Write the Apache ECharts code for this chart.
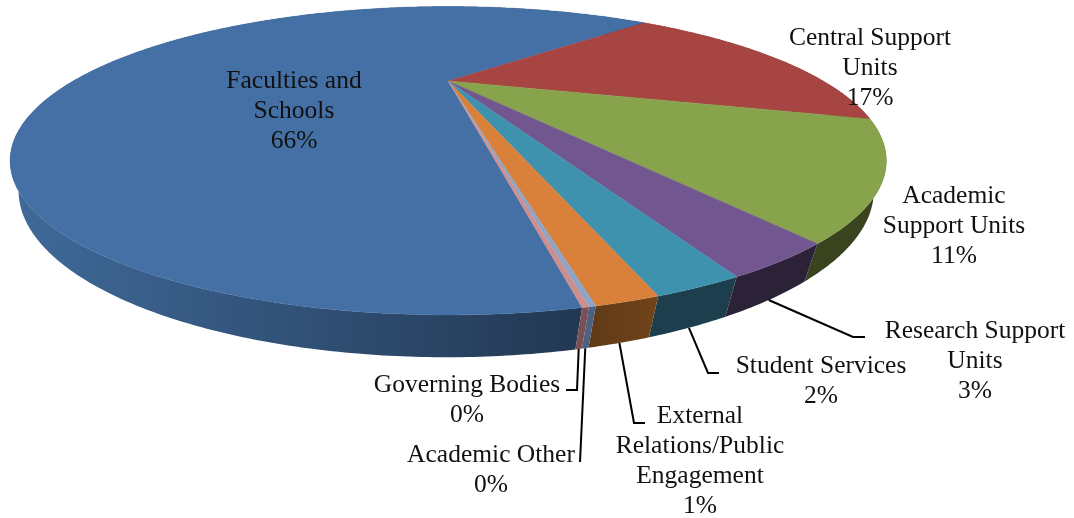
<!DOCTYPE html>
<html lang="en">
<head>
    <meta charset="UTF-8">
    <title>Pie chart</title>
    <script src="https://cdn.jsdelivr.net/npm/echarts@6/dist/echarts.min.js"></script>
    <style>
        html, body { margin: 0; padding: 0; background: #fff; }
    </style>
</head>
<body>
    <div id="pieChart" style="width: 1074px; height: 518px;"></div>
    <script>
        // data
        var categories = [
            'Faculties and\nSchools',
            'Central Support\nUnits',
            'Academic\nSupport Units',
            'Research Support\nUnits',
            'Student Services',
            'External\nRelations/Public\nEngagement',
            'Academic Other',
            'Governing Bodies'
        ];
        var shares = [65.5, 17.0, 10.85, 2.9, 2.1, 1.45, 0.15, 0.15];
        var shareLabels = ['66%', '17%', '11%', '3%', '2%', '1%', '0%', '0%'];

        // styles
        var topColors = ['#4570a5', '#a64542', '#87a34c', '#725690', '#3f92ad', '#d9803a', '#8ea5cb', '#cc8f8d'];
        var wallLeft = ['#406a9a', '#5e2725', '#39431d', '#2c2238', '#1d3f4d', '#6f4219', '#4d6180', '#7a5054'];
        var wallRight = ['#213650', '#5e2725', '#39431d', '#2c2238', '#1d3f4d', '#5f3a18', '#4d6180', '#7a5054'];

        // label layout: centre of the text block
        var labelX = [294, 870, 954, 975, 821, 700, 491, 467];
        var labelY = [111, 68, 226, 361, 381, 461, 470, 400];
        // leader lines: elbow and end, null for no leader
        var leaderBend = [null, null, null, [853, 337], [708, 373], [634, 423], [580, 462], [577, 390]];
        var leaderEnd = [null, null, null, [865, 337], [719, 373], [645, 423], null, [566, 390]];

        // perspective of the disc
        var cx = 448.2, cy = 81;
        var scaleX = 375, scaleY = 113, tilt = 0.517;
        var depthX = -2, depthY = 25.4, depthW = 0.018;
        var firstAngle = 79.9;

        var total = shares.reduce(function (a, b) { return a + b; }, 0);
        var angles = [firstAngle];
        shares.forEach(function (v, i) {
            angles.push(angles[i] + v / total * 360);
        });

        // h = 0 is the top face, h = 1 the bottom face
        function project(deg, h) {
            var t = deg * Math.PI / 180;
            var u = Math.cos(t), v = Math.sin(t);
            var w = 1 - tilt * v + depthW * h;
            return [cx + depthX * h + scaleX * u / w, cy + (scaleY * v + depthY * h) / w];
        }

        function arc(from, to, h) {
            var pts = [];
            var n = Math.max(2, Math.ceil((to - from) / 0.5));
            for (var i = 0; i <= n; i++) {
                pts.push(project(from + (to - from) * i / n, h));
            }
            return pts;
        }

        function renderWall(params) {
            var i = params.dataIndex;
            var pts = arc(angles[i], angles[i + 1], 0).concat(arc(angles[i], angles[i + 1], 1).reverse());
            var x0 = 9, x1 = 600;
            if (i > 0) {
                x0 = project(angles[i + 1], 1)[0];
                x1 = project(angles[i], 1)[0];
            }
            var fill = new echarts.graphic.LinearGradient(x0, 0, x1, 0, [
                { offset: 0, color: i === 0 ? wallLeft[i] : wallRight[i] },
                { offset: 1, color: i === 0 ? wallRight[i] : wallLeft[i] }
            ], true);
            return { type: 'polygon', shape: { points: pts }, style: { fill: fill, stroke: null } };
        }

        function renderTop(params) {
            var i = params.dataIndex;
            var pts = [[cx, cy]].concat(arc(angles[i], angles[i + 1], 0));
            return {
                type: 'polygon',
                shape: { points: pts },
                style: { fill: topColors[i], stroke: topColors[i], lineWidth: 0.4 }
            };
        }

        function renderLabel(params) {
            var i = params.dataIndex;
            var children = [{
                type: 'text',
                style: {
                    x: labelX[i],
                    y: labelY[i],
                    text: categories[i] + '\n' + shareLabels[i],
                    align: 'center',
                    verticalAlign: 'middle',
                    fontFamily: '"Liberation Serif", serif',
                    fontSize: 25.5,
                    lineHeight: 30,
                    fill: '#111'
                }
            }];
            if (leaderBend[i]) {
                var start = project((angles[i] + angles[i + 1]) / 2, 1);
                var line = [start, leaderBend[i]];
                if (leaderEnd[i]) line.push(leaderEnd[i]);
                children.push({
                    type: 'polyline',
                    shape: { points: line },
                    style: { fill: null, stroke: '#000', lineWidth: 2 }
                });
            }
            return { type: 'group', children: children };
        }

        var pieChart = echarts.init(document.getElementById('pieChart'));
        pieChart.setOption({
            animation: false,
            backgroundColor: '#fff',
            series: [
                { type: 'custom', coordinateSystem: 'none', silent: true, z: 1, data: shares, renderItem: renderWall },
                { type: 'custom', coordinateSystem: 'none', silent: true, z: 2, data: shares, renderItem: renderTop },
                { type: 'custom', coordinateSystem: 'none', silent: true, z: 3, data: shares, renderItem: renderLabel }
            ]
        });
    </script>
</body>
</html>
